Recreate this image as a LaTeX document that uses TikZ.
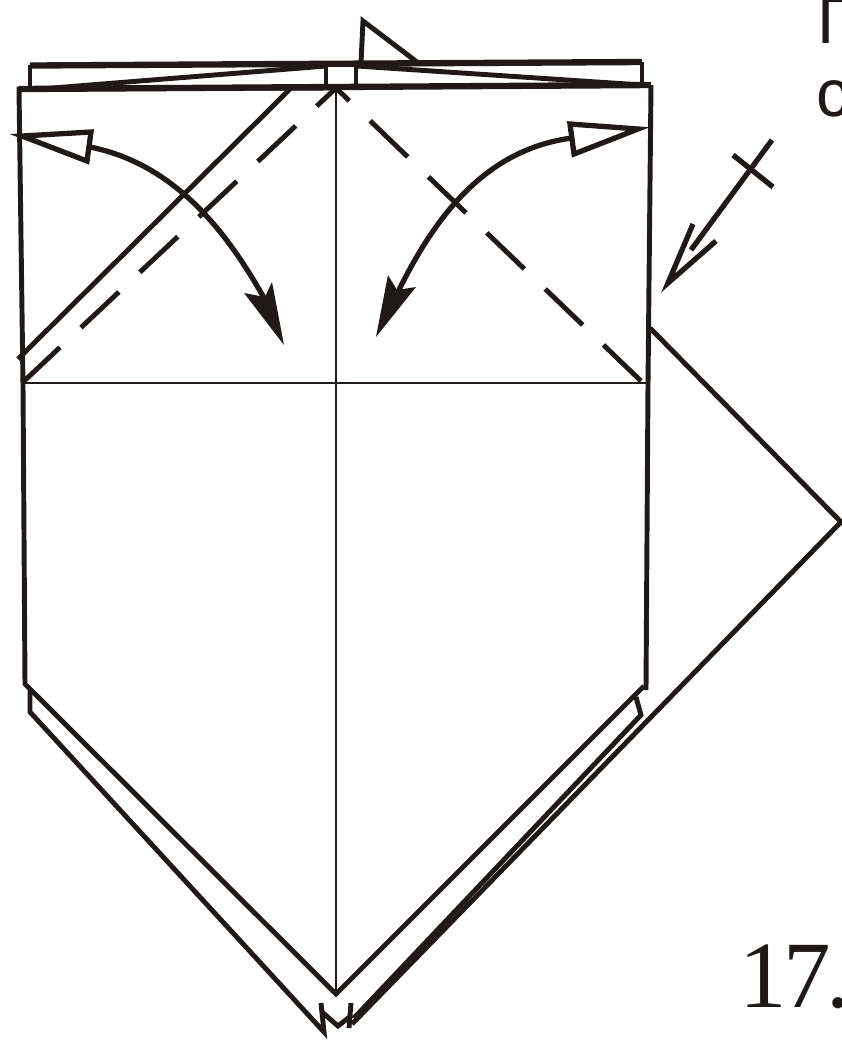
\documentclass[tikz,border=0pt]{standalone}
\usepackage{fontspec}
\setmainfont{Liberation Serif}
\setsansfont{Liberation Sans}
\definecolor{encre}{HTML}{1F1A17}
\tikzset{
  pli/.style={encre, line width=1.4pt, line join=miter},
  gros/.style={encre, line width=1.8pt},
  fin/.style={encre, line width=0.8pt},
  vallee/.style={encre, line width=1.4pt, dash pattern=on 14.8pt off 8.2pt},
  fleche/.style={encre, line width=1.5pt},
}
\begin{document}
\begin{tikzpicture}[x=0.01cm,y=-0.01cm]
  \clip (0,0) rectangle (842,1044);
  % Plis marques
  \draw[fin] (22,383) -- (648,383);
  \draw[fin] (336,88) -- (336,995);

  % Rabat a droite
  \draw[pli] (650,328) -- (841,522) -- (352,1024);

  % Contour de la feuille
  \draw[pli] (330,88) -- (19,89) -- (23,385) -- (25,684) -- (336,994) -- (644,686);
  \draw[pli] (651,85) -- (648,385) -- (646,690);
  \draw[pli] (30,688) -- (30,712) -- (324,1032) -- (321,1003);
  \draw[pli] (322,1012) -- (338,1026) -- (352,1015);
  \draw[pli] (351,1003) -- (349,1028);
  \draw[pli] (636,697) -- (641,715) -- (354,1018);

  % Bord superieur
  \draw[pli] (30,88) -- (30,65);
  \draw[pli] (642,62) -- (642,85);
  \draw[gros] (30,65.5) -- (642,62);
  \draw[gros] (19,89) -- (651,85);
  \draw[pli] (40,89) -- (326,66);
  \draw[pli] (357,66) -- (642,85);
  \draw[pli] (326,65) -- (326,87);
  \draw[pli] (356,65) -- (356,86);
  \draw[pli] (361,63) -- (363,21) -- (417,62);

  % Pli oblique et pointilles
  \draw[pli] (290,89) -- (18,359);
  \draw[vallee] (22,383) -- (336,88);
  \draw[vallee] (641,381) -- (336,88);

  % Fleche courbe gauche
  \draw[fleche] (90,147) .. controls (180,165) and (232,240) .. (268,305);
  \draw[fleche,fill=white] (22,136) -- (91,132) -- (87,161) -- cycle;
  \fill[encre] (284,345) -- (272,282) -- (265,297) -- (244,293) -- cycle;

  % Fleche courbe droite
  \draw[fleche] (572,138) .. controls (480,150) and (430,225) .. (394,300);
  \draw[fleche,fill=white] (638,129) -- (570,124) -- (574,154) -- cycle;
  \fill[encre] (376,337) -- (388,275) -- (397,290) -- (416,287) -- cycle;

  % Fleche barree
  \draw[fleche] (772,140) -- (691,250);
  \draw[fleche] (733,155) -- (773,187);
  \draw[fleche] (693,224) -- (668,283) -- (716,241);

  % Textes
  \node[anchor=base west, inner sep=0pt, font=\sffamily\fontsize{19pt}{19pt}\selectfont, encre] (titre) at (817,43) {Г};
  \node[anchor=base west, inner sep=0pt, font=\sffamily\fontsize{19pt}{19pt}\selectfont, encre] (suite) at (816,116) {с};
  \node[anchor=base west, inner sep=0pt, font=\fontsize{27pt}{27pt}\selectfont, encre] (numero) at (739,1007) {1\kern-1.1pt 7\kern-1.1pt.};
\end{tikzpicture}
\end{document}
